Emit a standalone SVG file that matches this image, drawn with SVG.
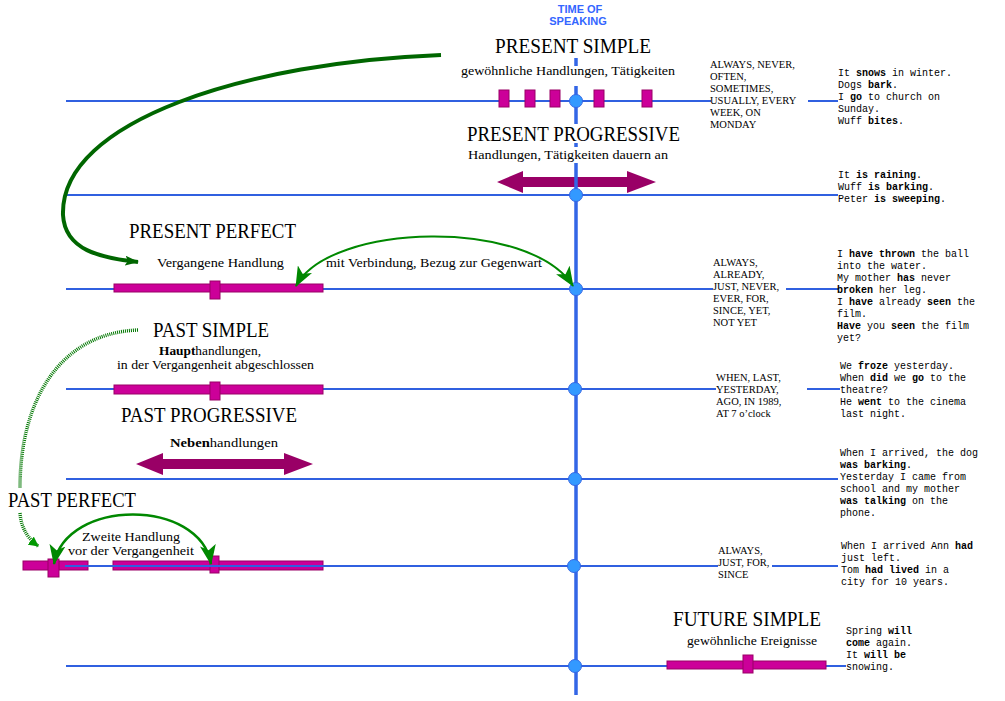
<svg xmlns="http://www.w3.org/2000/svg" width="1005" height="701" viewBox="0 0 1005 701">
<style>
text{font-family:"Liberation Serif",serif;fill:#000}
.title{font-size:20px}
.sub{font-size:13px}
.sub2{font-size:12.5px}
.kw{font-size:10.5px}
.ex{font-family:"Liberation Mono",monospace;font-size:10px}
.b{font-weight:bold}
.tl{stroke:#3060e0;stroke-width:1.2;fill:none;shape-rendering:crispEdges}
.dot{fill:#3399ff;stroke:#3366e6;stroke-width:1}
.bar{fill:#cc0099;stroke:#990066;stroke-width:1}
.arr{fill:#990066}
.tos{font-family:"Liberation Sans",sans-serif;font-weight:bold;font-size:11px;fill:#3366ff}
</style>
<defs>
<marker id="ga" viewBox="0 0 20 16" markerUnits="userSpaceOnUse" markerWidth="20" markerHeight="16" refX="19" refY="8" orient="auto-start-reverse">
<path d="M0,0 L20,8 L0,16 L5,8 z" fill="#008800"/>
</marker>
<marker id="dga" viewBox="0 0 14 10" markerUnits="userSpaceOnUse" markerWidth="14" markerHeight="10" refX="13" refY="5" orient="auto">
<path d="M0,0 L14,5 L0,10 L3,5 z" fill="#006600"/>
</marker>
<marker id="hga" viewBox="0 0 10 10" markerUnits="userSpaceOnUse" markerWidth="10" markerHeight="10" refX="9" refY="5" orient="auto">
<path d="M0,0 L10,5 L0,10 z" fill="#009900"/>
</marker>
</defs>
<rect width="1005" height="701" fill="#fff"/>

<g id="timelines">
<path class="tl" d="M66,101H711M808,101H838"/>
<path class="tl" d="M66,195H838"/>
<path class="tl" d="M66,289H713M786,289H838"/>
<path class="tl" d="M66,389H716M807,389H840"/>
<path class="tl" d="M66,479H838"/>
<path class="tl" d="M66,666H846"/>
</g>

<g id="present-simple">
<text class="title" x="495" y="53" textLength="156" lengthAdjust="spacingAndGlyphs">PRESENT SIMPLE</text>
<text class="sub" x="461" y="75" textLength="214" lengthAdjust="spacingAndGlyphs">gewöhnliche Handlungen, Tätigkeiten</text>
<rect class="bar" x="499" y="90" width="10" height="17"/>
<rect class="bar" x="525" y="90" width="10" height="17"/>
<rect class="bar" x="550" y="90" width="10" height="17"/>
<rect class="bar" x="594" y="90" width="10" height="17"/>
<rect class="bar" x="642" y="90" width="10" height="17"/>
<text class="kw" x="710" y="68">ALWAYS, NEVER,</text>
<text class="kw" x="710" y="80">OFTEN,</text>
<text class="kw" x="710" y="92">SOMETIMES,</text>
<text class="kw" x="710" y="104">USUALLY, EVERY</text>
<text class="kw" x="710" y="116">WEEK, ON</text>
<text class="kw" x="710" y="128">MONDAY</text>
<text class="ex" x="838" y="76">It <tspan class="b">snows</tspan> in winter.</text>
<text class="ex" x="838" y="88">Dogs <tspan class="b">bark</tspan>.</text>
<text class="ex" x="838" y="100">I <tspan class="b">go</tspan> to church on</text>
<text class="ex" x="838" y="112">Sunday.</text>
<text class="ex" x="838" y="124">Wuff <tspan class="b">bites</tspan>.</text>
</g>

<g id="present-progressive">
<text class="title" x="467" y="141" textLength="213" lengthAdjust="spacingAndGlyphs">PRESENT PROGRESSIVE</text>
<text class="sub" x="468" y="159" textLength="200" lengthAdjust="spacingAndGlyphs">Handlungen, Tätigkeiten dauern an</text>
<polygon class="arr" points="497,182 523,171 523,177 627,177 627,171 656,182 627,193 627,187 523,187 523,193"/>
<text class="ex" x="838" y="178">It <tspan class="b">is raining</tspan>.</text>
<text class="ex" x="838" y="190">Wuff <tspan class="b">is barking</tspan>.</text>
<text class="ex" x="838" y="202">Peter <tspan class="b">is sweeping</tspan>.</text>
</g>

<g id="present-perfect">
<text class="title" x="129" y="238" textLength="167" lengthAdjust="spacingAndGlyphs">PRESENT PERFECT</text>
<text class="sub" x="157" y="267" textLength="127" lengthAdjust="spacingAndGlyphs">Vergangene Handlung</text>
<text class="sub" x="326" y="267" textLength="216" lengthAdjust="spacingAndGlyphs">mit Verbindung, Bezug zur Gegenwart</text>
<rect class="bar" x="114" y="284" width="209" height="8"/>
<rect class="bar" x="210" y="281" width="10" height="18"/>
<text class="kw" x="713" y="266">ALWAYS,</text>
<text class="kw" x="713" y="278">ALREADY,</text>
<text class="kw" x="713" y="290">JUST, NEVER,</text>
<text class="kw" x="713" y="302">EVER, FOR,</text>
<text class="kw" x="713" y="314">SINCE, YET,</text>
<text class="kw" x="713" y="326">NOT YET</text>
<text class="ex" x="837" y="257">I <tspan class="b">have thrown</tspan> the ball</text>
<text class="ex" x="837" y="269">into the water.</text>
<text class="ex" x="837" y="281">My mother <tspan class="b">has</tspan> never</text>
<text class="ex" x="837" y="293"><tspan class="b">broken</tspan> her leg.</text>
<text class="ex" x="837" y="305">I <tspan class="b">have</tspan> already <tspan class="b">seen</tspan> the</text>
<text class="ex" x="837" y="317">film.</text>
<text class="ex" x="837" y="329"><tspan class="b">Have</tspan> you <tspan class="b">seen</tspan> the film</text>
<text class="ex" x="837" y="341">yet?</text>
</g>

<g id="past-simple">
<text class="title" x="153" y="337" textLength="116" lengthAdjust="spacingAndGlyphs">PAST SIMPLE</text>
<text class="sub" x="159" y="355" textLength="102" lengthAdjust="spacingAndGlyphs"><tspan class="b">Haupt</tspan>handlungen,</text>
<text class="sub" x="117" y="369" textLength="197" lengthAdjust="spacingAndGlyphs">in der Vergangenheit abgeschlossen</text>
<rect class="bar" x="114" y="385" width="209" height="9"/>
<rect class="bar" x="210" y="382" width="10" height="18"/>
<text class="kw" x="716" y="381">WHEN, LAST,</text>
<text class="kw" x="716" y="393">YESTERDAY,</text>
<text class="kw" x="716" y="405">AGO, IN 1989,</text>
<text class="kw" x="716" y="417">AT 7 o’clock</text>
<text class="ex" x="840" y="369">We <tspan class="b">froze</tspan> yesterday.</text>
<text class="ex" x="840" y="381">When <tspan class="b">did</tspan> we <tspan class="b">go</tspan> to the</text>
<text class="ex" x="840" y="393">theatre?</text>
<text class="ex" x="840" y="405">He <tspan class="b">went</tspan> to the cinema</text>
<text class="ex" x="840" y="417">last night.</text>
</g>

<g id="past-progressive">
<text class="title" x="121" y="422" textLength="176" lengthAdjust="spacingAndGlyphs">PAST PROGRESSIVE</text>
<text class="sub" x="170" y="447" textLength="108" lengthAdjust="spacingAndGlyphs"><tspan class="b">Neben</tspan>handlungen</text>
<polygon class="arr" points="136,464 163,453 163,459 284,459 284,453 313,464 284,475 284,469 163,469 163,475"/>
<text class="ex" x="840" y="456">When I arrived, the dog</text>
<text class="ex" x="840" y="468"><tspan class="b">was barking</tspan>.</text>
<text class="ex" x="840" y="480">Yesterday I came from</text>
<text class="ex" x="840" y="492">school and my mother</text>
<text class="ex" x="840" y="504"><tspan class="b">was talking</tspan> on the</text>
<text class="ex" x="840" y="516">phone.</text>
</g>

<g id="past-perfect">
<text class="title" x="8" y="507" textLength="128" lengthAdjust="spacingAndGlyphs">PAST PERFECT</text>
<text class="sub2" x="82" y="541" textLength="98" lengthAdjust="spacingAndGlyphs">Zweite Handlung</text>
<text class="sub2" x="68" y="555" textLength="126" lengthAdjust="spacingAndGlyphs">vor der Vergangenheit</text>
<rect class="bar" x="23" y="561" width="65" height="9"/>
<rect class="bar" x="48" y="559" width="11" height="18"/>
<rect class="bar" x="113" y="561" width="210" height="9"/>
<rect class="bar" x="210" y="556" width="9" height="17"/>
<path class="tl" d="M65,566H718M772,566H838"/>
<text class="kw" x="718" y="554">ALWAYS,</text>
<text class="kw" x="718" y="566">JUST, FOR,</text>
<text class="kw" x="718" y="578">SINCE</text>
<text class="ex" x="841" y="549">When I arrived Ann <tspan class="b">had</tspan></text>
<text class="ex" x="841" y="561">just left.</text>
<text class="ex" x="841" y="573">Tom <tspan class="b">had lived</tspan> in a</text>
<text class="ex" x="841" y="585">city for 10 years.</text>
</g>

<g id="future-simple">
<text class="title" x="673" y="626" textLength="148" lengthAdjust="spacingAndGlyphs">FUTURE SIMPLE</text>
<text class="sub" x="687" y="645" textLength="130" lengthAdjust="spacingAndGlyphs">gewöhnliche Ereignisse</text>
<rect class="bar" x="667" y="661" width="159" height="8"/>
<rect class="bar" x="743" y="655" width="10" height="18"/>
<text class="ex" x="846" y="634">Spring <tspan class="b">will</tspan></text>
<text class="ex" x="846" y="646"><tspan class="b">come</tspan> again.</text>
<text class="ex" x="846" y="658">It <tspan class="b">will be</tspan></text>
<text class="ex" x="846" y="670">snowing.</text>
</g>

<g id="time-of-speaking">
<text class="tos" x="580" y="13" text-anchor="middle">TIME OF</text>
<text class="tos" x="578" y="25" text-anchor="middle">SPEAKING</text>
<path d="M576,58V66M576,86V124M576,143V147M576,163V695" stroke="#3366e6" stroke-width="3.5" fill="none"/>
<circle class="dot" cx="576" cy="101" r="6.5"/>
<circle class="dot" cx="576" cy="195" r="6.5"/>
<circle class="dot" cx="576" cy="289" r="6.5"/>
<circle class="dot" cx="575" cy="389" r="6.5"/>
<circle class="dot" cx="575" cy="479" r="6.5"/>
<circle class="dot" cx="574" cy="566" r="6.5"/>
<circle class="dot" cx="575" cy="666" r="6.5"/>
</g>

<g id="connectors">
<path d="M441,55 C250,62 60,120 63,215 C65,250 100,258 138,262" fill="none" stroke="#006600" stroke-width="4" marker-end="url(#dga)"/>
<path d="M296,286 C330,222 530,218 573,286" fill="none" stroke="#008800" stroke-width="2" marker-start="url(#ga)" marker-end="url(#ga)"/>
<path d="M54,564 C66,498 200,498 211,564" fill="none" stroke="#008800" stroke-width="2.5" marker-start="url(#ga)" marker-end="url(#ga)"/>
<path d="M138,330 C60,333 20,400 20,488 M20,513 C21,526 26,537 38,546" fill="none" stroke="#007700" stroke-width="3.5" stroke-dasharray="1,1" marker-end="url(#hga)"/>
</g>
</svg>
